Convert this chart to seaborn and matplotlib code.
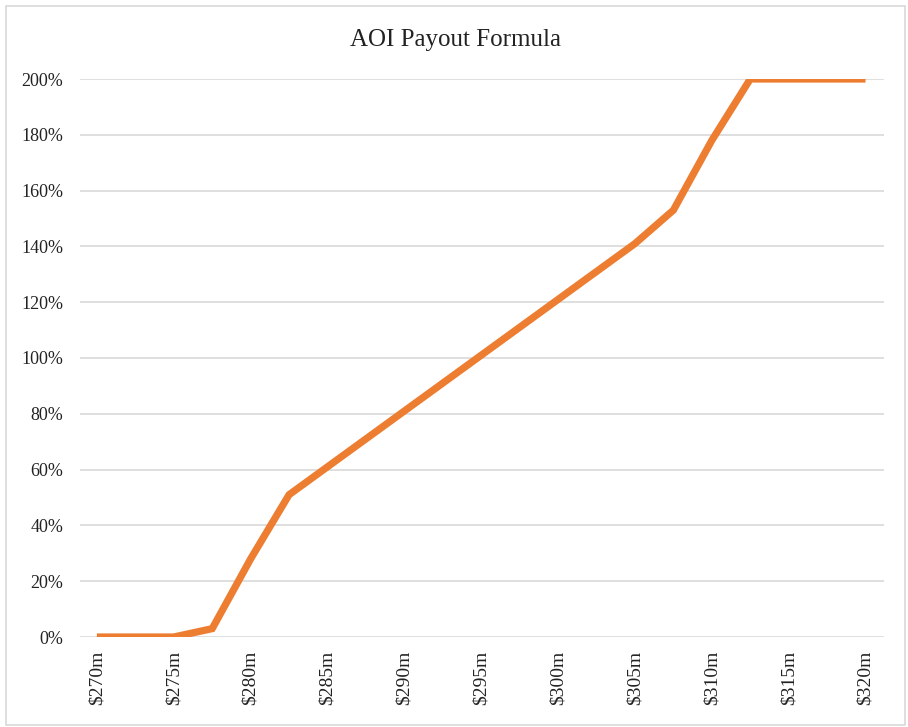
import matplotlib
matplotlib.use("Agg")
import matplotlib.pyplot as plt
import seaborn as sns
import pandas as pd
from matplotlib.patches import Rectangle

# AOI in $m, every 2.5m
aoi = [270, 272.5, 275, 277.5, 280, 282.5, 285, 287.5, 290, 292.5, 295,
       297.5, 300, 302.5, 305, 307.5, 310, 312.5, 315, 317.5, 320]
payout = [0, 0, 0, 3, 28, 51, 61, 71, 81, 91, 101,
          111, 121, 131, 141, 153, 178, 200, 200, 200, 200]

tick_vals = [270, 275, 280, 285, 290, 295, 300, 305, 310, 315, 320]
tick_labels = [f"${v}m" for v in tick_vals]
y_ticks = [0, 20, 40, 60, 80, 100, 120, 140, 160, 180, 200]

sns.set_theme(style="white")
plt.rcParams['font.family'] = ['Liberation Serif', 'DejaVu Serif']

W, H = 908, 727
fig = plt.figure(figsize=(W / 100, H / 100), dpi=100)
ax = fig.add_axes([80 / W, (H - 637) / H, (884 - 80) / W, (637 - 79) / H])

df = pd.DataFrame({'AOI': aoi, 'Payout': payout})
sns.lineplot(data=df, x='AOI', y='Payout', ax=ax, color='#ED7D31',
             linewidth=5.2, solid_capstyle='butt', solid_joinstyle='miter', zorder=3)

ax.set_xlim(268.9, 321.2)
ax.set_ylim(0, 200)
ax.set_xticks(tick_vals)
ax.set_xticklabels(tick_labels, rotation=90, fontsize=14, color='#222222')
ax.set_yticks(y_ticks)
ax.set_yticklabels([f"{v}%" for v in y_ticks], fontsize=13, color='#222222')
ax.tick_params(axis='y', length=0, pad=12)
ax.tick_params(axis='x', length=0, pad=10)
ax.yaxis.grid(True, color='#D9D9D9', linewidth=1.2)
ax.xaxis.grid(False)
for s in ax.spines.values():
    s.set_visible(False)
ax.set_xlabel('')
ax.set_ylabel('')

fig.text(456 / W, 1 - 40 / H, 'AOI Payout Formula', ha='center', va='center',
         fontsize=18, color='#222222')

# light frame around the whole chart
fig.patches.append(Rectangle((6 / W, 2 / H), 899 / W, 719 / H, transform=fig.transFigure,
                             fill=False, edgecolor='#D9D9D9', linewidth=1.2))

fig.savefig('out.png', dpi=100)
